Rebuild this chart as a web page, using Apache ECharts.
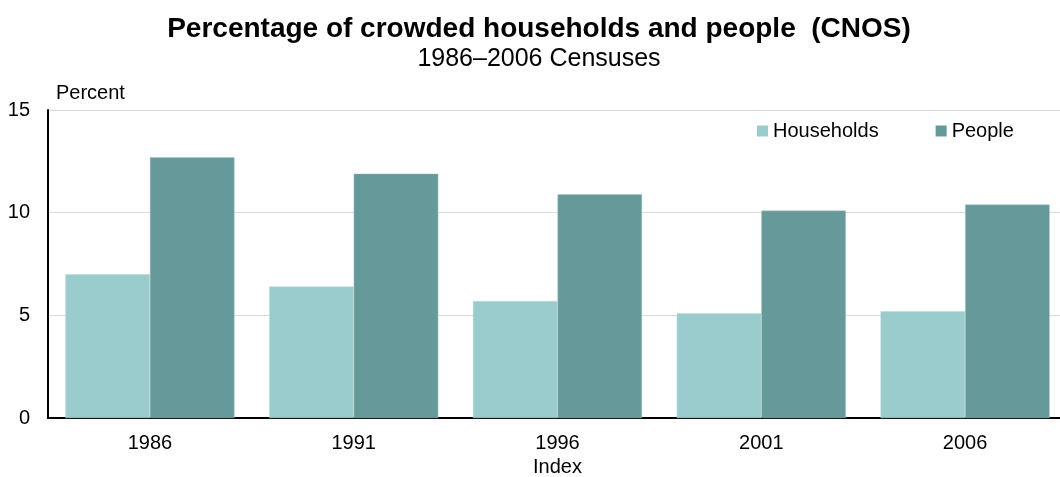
<!DOCTYPE html>
<html>
<head>
<meta charset="utf-8">
<script src="https://cdn.jsdelivr.net/npm/echarts@6/dist/echarts.min.js"></script>
<style>
  html, body { margin: 0; padding: 0; background: #fff; }
  #chart { width: 1060px; height: 477px; }
</style>
</head>
<body>
<div id="chart"></div>
<script>
// Census years
const years = ['1986', '1991', '1996', '2001', '2006'];
// Percentage of crowded households (CNOS)
const households = [7.0, 6.4, 5.7, 5.1, 5.2];
// Percentage of people living in crowded households (CNOS)
const people = [12.7, 11.9, 10.9, 10.1, 10.4];

const FONT = '"Liberation Sans", Arial, sans-serif';

const chart = echarts.init(document.getElementById('chart'), null, { renderer: 'canvas' });
chart.setOption({
  animation: false,
  backgroundColor: '#ffffff',
  textStyle: { fontFamily: FONT },
  title: {
    text: 'Percentage of crowded households and people  (CNOS)',
    subtext: '1986\u20132006 Censuses',
    left: 534,
    textAlign: 'center',
    top: 10,
    itemGap: 4,
    textStyle: { fontFamily: FONT, fontSize: 28, fontWeight: 'bold', color: '#000' },
    subtextStyle: { fontFamily: FONT, fontSize: 25, color: '#000' }
  },
  legend: {
    left: 757,
    top: 121,
    padding: 0,
    itemWidth: 11,
    itemHeight: 11,
    itemGap: 57,
    icon: 'rect',
    itemStyle: { borderWidth: 0 },
    textStyle: { fontFamily: FONT, fontSize: 20, color: '#000' },
    data: ['Households', 'People']
  },
  // plot runs slightly past the right edge of the canvas
  grid: {
    left: 48, width: 1019, top: 110, bottom: 59,
    containLabel: false,
    outerBoundsMode: 'none'
  },
  xAxis: {
    type: 'category',
    data: years,
    name: 'Index',
    nameLocation: 'middle',
    nameGap: 39,
    nameTextStyle: { fontFamily: FONT, fontSize: 20, color: '#000' },
    axisLine: { lineStyle: { color: '#000', width: 2 } },
    axisTick: { show: false },
    axisLabel: { fontFamily: FONT, fontSize: 20, color: '#000', margin: 15 }
  },
  yAxis: {
    type: 'value',
    min: 0,
    max: 15,
    interval: 5,
    name: 'Percent',
    nameLocation: 'end',
    nameGap: 7,
    nameTextStyle: { fontFamily: FONT, fontSize: 20, color: '#000', align: 'left', padding: [0, 0, 0, 8] },
    axisLine: { show: true, lineStyle: { color: '#000', width: 2 } },
    axisTick: { show: false },
    axisLabel: { fontFamily: FONT, fontSize: 20, color: '#000', margin: 18 },
    splitLine: { lineStyle: { color: '#d9d9d9', width: 1 } }
  },
  series: [
    {
      name: 'Households',
      type: 'bar',
      data: households,
      barGap: '0%',
      barCategoryGap: '17%',
      itemStyle: { color: '#9bcccd', borderColor: '#b8dcdc', borderWidth: 0.5 }
    },
    {
      name: 'People',
      type: 'bar',
      data: people,
      barGap: '0%',
      barCategoryGap: '17%',
      itemStyle: { color: '#669999', borderColor: '#a9c9c9', borderWidth: 0.5 }
    }
  ]
});
</script>
</body>
</html>
